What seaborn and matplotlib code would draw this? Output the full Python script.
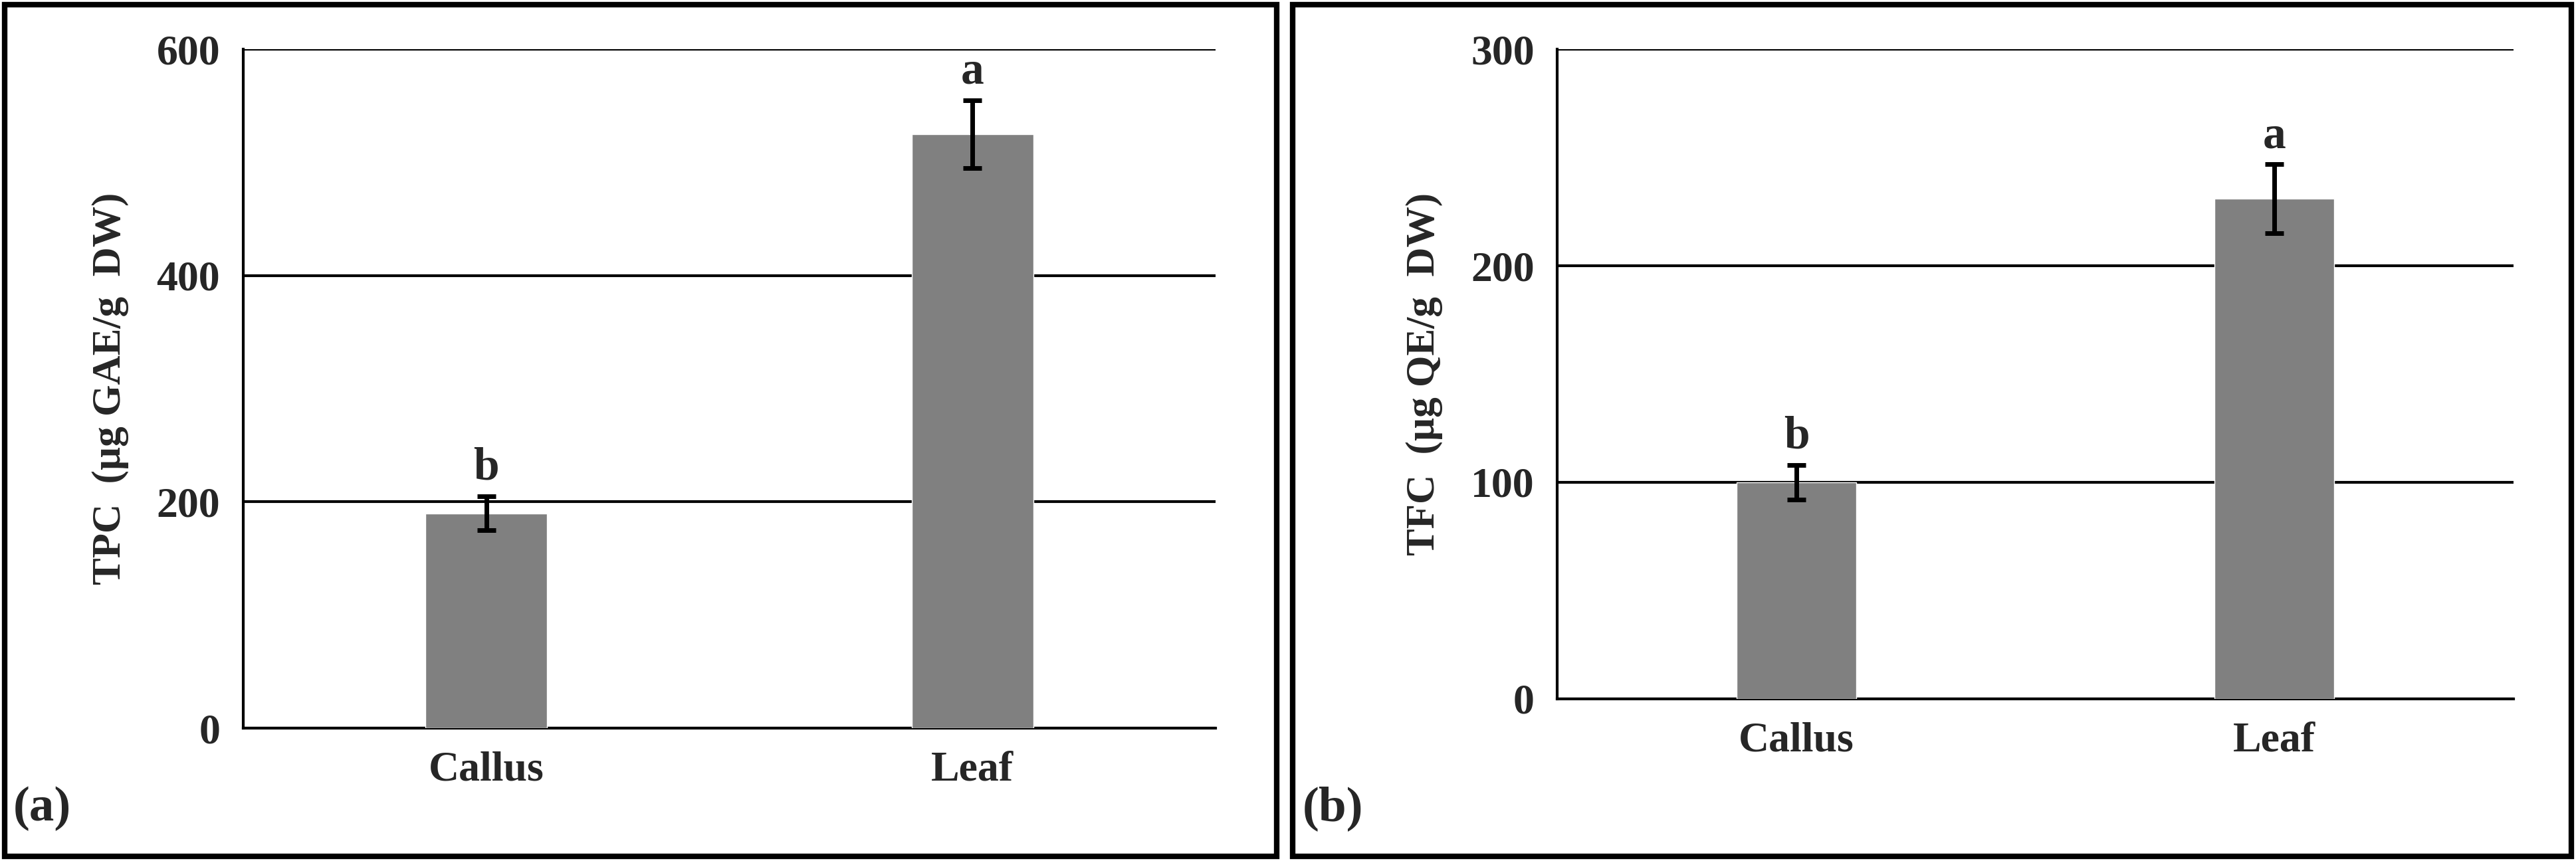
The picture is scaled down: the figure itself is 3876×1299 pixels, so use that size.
import matplotlib
matplotlib.use("Agg")
import matplotlib.pyplot as plt
import seaborn as sns
import pandas as pd
from matplotlib.patches import Rectangle

categories = ["Callus", "Leaf"]
tpc_values = [190, 525]
tpc_err = [15, 30]
tfc_values = [100, 231]
tfc_err = [8, 16]
letters_a = ["b", "a"]
letters_b = ["b", "a"]

sns.set_theme(style="white")
plt.rcParams['font.family'] = ['Liberation Serif', 'DejaVu Serif']
plt.rcParams['font.weight'] = 'bold'

fig = plt.figure(figsize=(38.76, 12.99), dpi=100)
W, H = 1568, 525
def rect(l, r, b, t):
    return [l / W, 1 - b / H, (r - l) / W, (b - t) / H]

axa = fig.add_axes(rect(148, 740, 443, 30))
axb = fig.add_axes(rect(948, 1530, 425, 30))

def panel(ax, vals, errs, letters, ymax, step, ylabel):
    df = pd.DataFrame({"cat": categories, "val": vals})
    sns.barplot(data=df, x="cat", y="val", ax=ax, color="#808080", saturation=1, width=0.25, zorder=3)
    ax.errorbar(range(len(vals)), vals, yerr=errs, fmt="none", ecolor="black", elinewidth=5, capsize=10, capthick=5, zorder=4)
    for i, (v, e, l) in enumerate(zip(vals, errs, letters)):
        ax.text(i, v + e + ymax * 0.01, l, ha="center", va="bottom", fontsize=50, fontweight="bold")
    ax.set_ylim(0, ymax)
    ax.set_xlim(-0.5, 1.5)
    ax.set_yticks(range(0, ymax + 1, step))
    ax.yaxis.grid(True, color="black", linewidth=3, zorder=0)
    ax.set_axisbelow(True)
    for s in ["top", "right"]:
        ax.spines[s].set_visible(False)
    for s in ["left", "bottom"]:
        ax.spines[s].set_color("black")
        ax.spines[s].set_linewidth(3)
    ax.set_xlabel("")
    ax.set_ylabel(ylabel, fontsize=44, fontweight="bold", labelpad=30)
    ax.tick_params(axis="both", labelsize=46, length=0, pad=25)
    for t in ax.get_xticklabels() + ax.get_yticklabels():
        t.set_fontweight("bold")

panel(axa, tpc_values, tpc_err, letters_a, 600, 200, "TPC  (µg GAE/g  DW)")
panel(axb, tfc_values, tfc_err, letters_b, 300, 100, "TFC  (µg QE/g  DW)")

for l, r in [(3, 777), (787, 1565)]:
    x0, y0, w, h = rect(l, r, 521, 3)
    fig.patches.append(Rectangle((x0, y0), w, h, transform=fig.transFigure, fill=False, edgecolor="black", linewidth=6))

fig.text(8 / W, 1 - 492 / H, "(a)", fontsize=54, fontweight="bold", va="center")
fig.text(793 / W, 1 - 492 / H, "(b)", fontsize=54, fontweight="bold", va="center")

fig.savefig("out.png", dpi=100)
